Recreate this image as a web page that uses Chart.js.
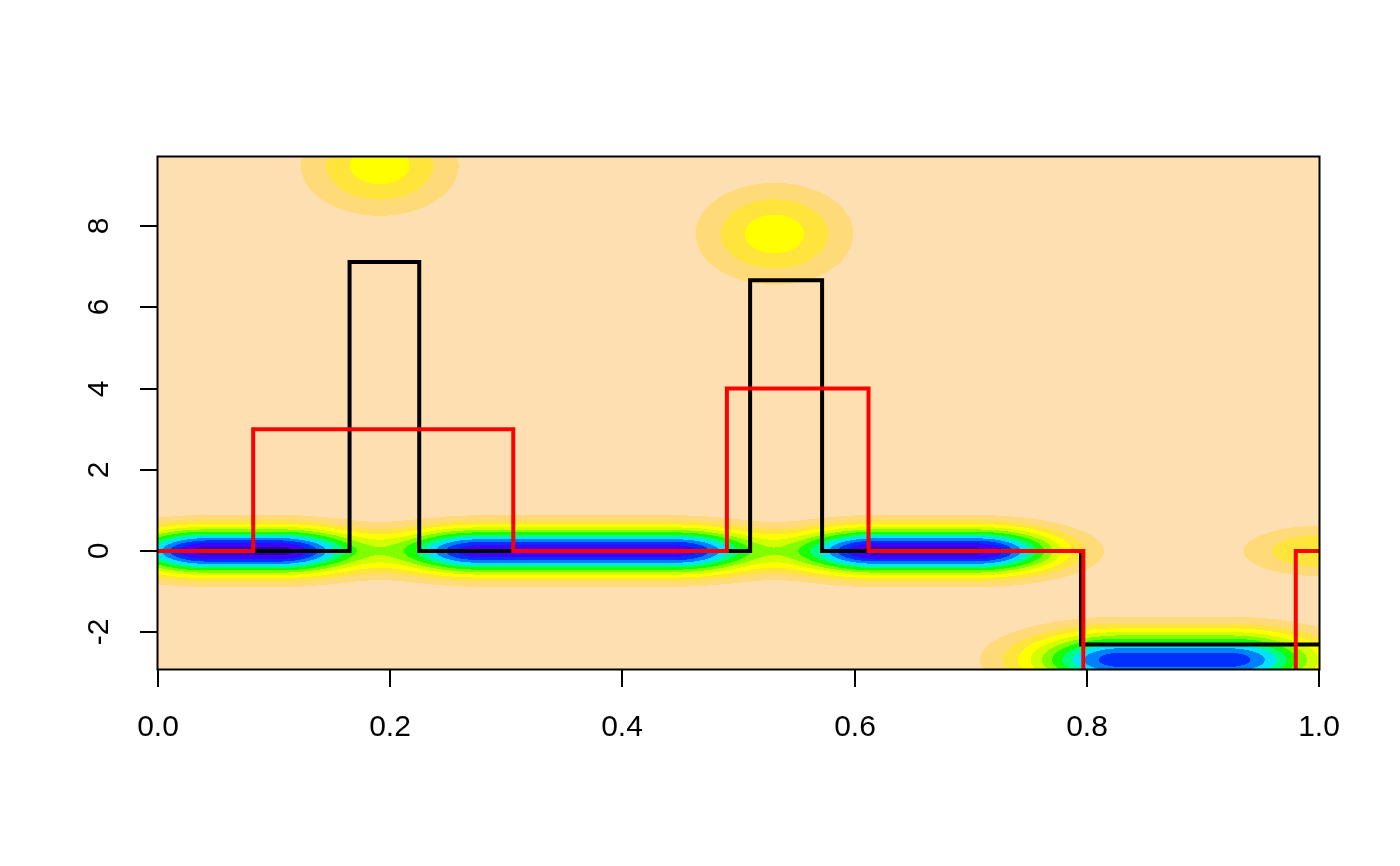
<!DOCTYPE html>
<html><head><meta charset="utf-8">
<script src="https://cdn.jsdelivr.net/npm/chart.js@4/dist/chart.umd.min.js"></script>
<style>html,body{margin:0;padding:0;background:#fff}#wrap{width:1400px;height:866px}canvas{display:block}</style>
</head><body><div id="wrap"><canvas id="c" width="1400" height="866"></canvas></div>
<script>
// ---- tick labels ----
const xTicks = [0, 0.2, 0.4, 0.6, 0.8, 1.0];
const xTickLabels = ['0.0', '0.2', '0.4', '0.6', '0.8', '1.0'];
const yTicks = [-2, 0, 2, 4, 6, 8];
const yTickLabels = ['-2', '0', '2', '4', '6', '8'];
const xRange = [0, 1];
const yRange = [-2.906, 9.704];

// ---- step series: value held on each interval [break_i, break_i+1] ----
const blackBreaks = [0, 0.165, 0.225, 0.510, 0.572, 0.795, 1.0];
const blackLevels = [0, 7.12, 0, 6.67, 0, -2.3];
const redBreaks = [0, 0.082, 0.306, 0.490, 0.612, 0.797, 0.980, 1.0];
const redLevels = [0, 3.0, 0, 4.0, 0, -3.5, 0];

// ---- contour field: bumps (plateau in x, spread in x/y, depth in contour levels) ----
const blobStart   = [0.043, 0.277, 0.619, 0.831, 0.191, 0.531, 1.000];
const blobEnd     = [0.103, 0.445, 0.704, 0.920, 0.191, 0.531, 1.000];
const blobCenterY = [0, 0, 0, -2.68, 9.50, 7.81, 0];
const blobSpreadX = [0.070, 0.070, 0.070, 0.080, 0.060, 0.060, 0.061];
const blobSpreadY = [0.56, 0.56, 0.56, 0.69, 1.10, 1.11, 0.58];
const blobDepth   = [12.4, 11.7, 12.3, 10.7, 3.6, 3.6, 3.1];
const levelColors = ['#FDDFB1', '#FFDA78', '#FFE43C', '#FFFF00', '#D2FF00', '#80FF00',
                     '#1AFF00', '#00FF80', '#00E5FF', '#0080FF', '#0030FF', '#4000FF', '#2A00B0'];

function stepPoints(breaks, levels) {
  const pts = levels.map((v, i) => ({x: breaks[i], y: v}));
  pts.push({x: breaks[breaks.length - 1], y: levels[levels.length - 1]});
  return pts;
}
function hexToRgb(h) {
  return [parseInt(h.slice(1, 3), 16), parseInt(h.slice(3, 5), 16), parseInt(h.slice(5, 7), 16)];
}

const contourPlugin = {
  id: 'contour',
  beforeDatasetsDraw(chart) {
    const a = chart.chartArea, xs = chart.scales.x, ys = chart.scales.y;
    const L = Math.floor(a.left), T = Math.floor(a.top);
    const W = Math.round(a.right) - L, H = Math.round(a.bottom) - T;
    const off = document.createElement('canvas');
    off.width = W; off.height = H;
    const octx = off.getContext('2d');
    const img = octx.createImageData(W, H);
    const nb = blobDepth.length;
    const gx = [], gy = [];
    for (let b = 0; b < nb; b++) {
      const cx = new Float64Array(W), cy = new Float64Array(H);
      for (let i = 0; i < W; i++) {
        const v = xs.getValueForPixel(L + i + 0.5);
        const d = Math.max(0, blobStart[b] - v, v - blobEnd[b]) / blobSpreadX[b];
        cx[i] = Math.exp(-d * d);
      }
      for (let j = 0; j < H; j++) {
        const v = ys.getValueForPixel(T + j + 0.5);
        const d = (v - blobCenterY[b]) / blobSpreadY[b];
        cy[j] = Math.exp(-d * d);
      }
      gx.push(cx); gy.push(cy);
    }
    const pal = levelColors.map(hexToRgb);
    const top = pal.length - 1;
    let k = 0;
    for (let j = 0; j < H; j++) {
      for (let i = 0; i < W; i++) {
        let s = 0;
        for (let b = 0; b < nb; b++) s += blobDepth[b] * gx[b][i] * gy[b][j];
        const lv = Math.min(top, Math.floor(s));
        const c = pal[lv];
        img.data[k++] = c[0]; img.data[k++] = c[1]; img.data[k++] = c[2]; img.data[k++] = 255;
      }
    }
    octx.putImageData(img, 0, 0);
    chart.ctx.drawImage(off, L, T);
  }
};

const axesPlugin = {
  id: 'rAxes',
  afterDraw(chart) {
    const ctx = chart.ctx, a = chart.chartArea, xs = chart.scales.x, ys = chart.scales.y;
    ctx.save();
    ctx.strokeStyle = '#000';
    ctx.lineWidth = 2;
    ctx.strokeRect(a.left - 0.5, a.top - 0.5, a.right - a.left + 1, a.bottom - a.top + 1);
    ctx.fillStyle = '#000';
    ctx.font = '30px "Liberation Sans", Arial, sans-serif';
    ctx.textAlign = 'center';
    ctx.textBaseline = 'middle';
    xTicks.forEach((v, i) => {
      const px = Math.round(xs.getPixelForValue(v));
      ctx.beginPath(); ctx.moveTo(px, a.bottom); ctx.lineTo(px, a.bottom + 18); ctx.stroke();
      ctx.fillText(xTickLabels[i], px, a.bottom + 59);
    });
    yTicks.forEach((v, i) => {
      const py = Math.round(ys.getPixelForValue(v));
      ctx.beginPath(); ctx.moveTo(a.left, py); ctx.lineTo(a.left - 18, py); ctx.stroke();
      ctx.save();
      ctx.translate(a.left - 58, py);
      ctx.rotate(-Math.PI / 2);
      ctx.fillText(yTickLabels[i], 0, 0);
      ctx.restore();
    });
    ctx.restore();
  }
};

new Chart(document.getElementById('c'), {
  type: 'line',
  data: {
    datasets: [
      {label: 'red', data: stepPoints(redBreaks, redLevels), stepped: true, borderColor: '#FF0000',
       borderWidth: 4, pointRadius: 0, fill: false, clip: 0, borderJoinStyle: 'miter'},
      {label: 'black', data: stepPoints(blackBreaks, blackLevels), stepped: true, borderColor: '#000000',
       borderWidth: 4, pointRadius: 0, fill: false, clip: 0, borderJoinStyle: 'miter'}
    ]
  },
  options: {
    responsive: false, animation: false, devicePixelRatio: 1,
    layout: {padding: {left: 158, right: 81, top: 157, bottom: 197}},
    plugins: {legend: {display: false}, tooltip: {enabled: false}, title: {display: false}},
    scales: {
      x: {type: 'linear', min: xRange[0], max: xRange[1], display: false},
      y: {type: 'linear', min: yRange[0], max: yRange[1], display: false}
    }
  },
  plugins: [contourPlugin, axesPlugin]
});
</script>
</body></html>
